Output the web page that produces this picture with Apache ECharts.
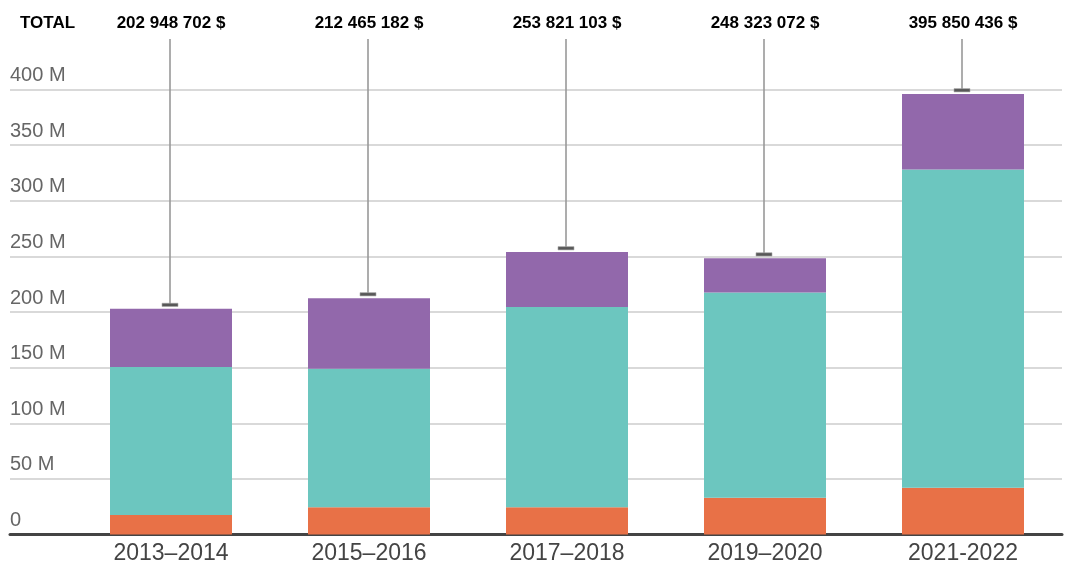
<!DOCTYPE html>
<html><head><meta charset="utf-8">
<script src="https://cdn.jsdelivr.net/npm/echarts@6/dist/echarts.min.js"></script>
<style>html,body{margin:0;padding:0;background:#fff}#c{width:1068px;height:568px}</style>
</head><body><div id="c"></div>
<script>
const categories = ['2013–2014','2015–2016','2017–2018','2019–2020','2021-2022'];
const orangeVals = [17.5, 24.5, 24.5, 33, 42];
const tealVals   = [133, 124.5, 180, 184.5, 286];
const totals     = [202948702, 212465182, 253821103, 248323072, 395850436];
const totalLabels = ['202 948 702 $','212 465 182 $','253 821 103 $','248 323 072 $','395 850 436 $'];
const purpleVals = totals.map((t,i)=> t/1e6 - orangeVals[i] - tealVals[i]);
const yTicks = [0,50,100,150,200,250,300,350,400];

const chart = echarts.init(document.getElementById('c'));
const font = 'Liberation Sans, Arial, Helvetica, sans-serif';
chart.setOption({
  animation:false,
  textStyle:{fontFamily:font},
  graphic:[{type:'text', left:20, top:15, style:{text:'TOTAL', font:'bold 17px '+font, fill:'#000'}}],
  grid:[
    {left:10, right:6, top:89.5, bottom:33.5},
    {left:72, right:6, top:89.5, bottom:33.5}
  ],
  xAxis:[
    {gridIndex:0, type:'value', min:0, max:1, axisLine:{show:true, onZero:false, lineStyle:{color:'#444', width:3}}, axisTick:{show:false}, axisLabel:{show:false}, splitLine:{show:false}},
    {gridIndex:1, type:'category', data:categories, axisLine:{show:false}, axisTick:{show:false},
     axisLabel:{fontSize:23, color:'#444', margin:8, fontFamily:font}}
  ],
  yAxis:[
    {gridIndex:0, type:'value', min:0, max:400, interval:50, axisLine:{show:false}, axisTick:{show:false},
     axisLabel:{inside:true, margin:0, fontSize:20, color:'#666', verticalAlign:'bottom', padding:[0,0,4,0], fontFamily:font,
       formatter:v=> v===0 ? '0' : v+' M'},
     splitLine:{lineStyle:{color:'#d9d9d9', width:2}}},
    {gridIndex:1, type:'value', min:0, max:400, interval:50, show:false}
  ],
  series:[
    {type:'bar', xAxisIndex:1, yAxisIndex:1, stack:'s', data:orangeVals, barWidth:122, itemStyle:{color:'#e87147'}},
    {type:'bar', xAxisIndex:1, yAxisIndex:1, stack:'s', data:tealVals, barWidth:122, itemStyle:{color:'#6cc6bf'}},
    {type:'bar', xAxisIndex:1, yAxisIndex:1, stack:'s', data:purpleVals, barWidth:122, itemStyle:{color:'#9268ab'}},
    {type:'custom', xAxisIndex:1, yAxisIndex:1, z:10, clip:false,
     data: totals.map((t,i)=>[i, t/1e6]),
     renderItem:(params, api)=>{
       const i = api.value(0);
       const p = api.coord([i, api.value(1)]);
       const x = Math.round(p[0]) - 1;
       return {type:'group', children:[
         {type:'line', shape:{x1:x, y1:39, x2:x, y2:p[1]-4}, style:{stroke:'#999', lineWidth:1.6}},
         {type:'rect', shape:{x:x-8, y:p[1]-5.5, width:16, height:3.3}, style:{fill:'#585858', stroke:'#aaa', lineWidth:0.6}},
         {type:'text', x:x+1, y:23.5, style:{text:totalLabels[i], font:'bold 17px '+font, fill:'#000', align:'center', verticalAlign:'middle'}}
       ]};
     }}
  ]
});
</script></body></html>
